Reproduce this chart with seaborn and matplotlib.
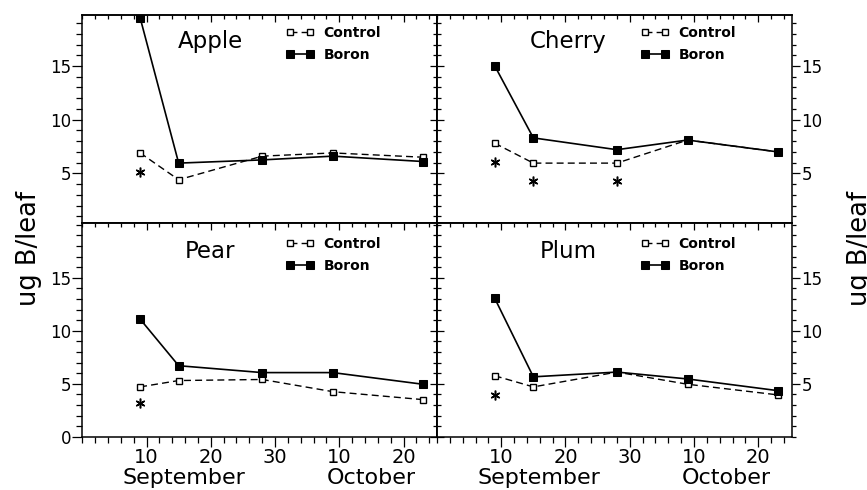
import matplotlib
matplotlib.use("Agg")
import matplotlib.pyplot as plt
from matplotlib.ticker import MultipleLocator
import seaborn as sns

# sampling dates, counted as days from 31 August (Sep d -> d, Oct d -> 30 + d)
days = [9, 15, 28, 39, 53]
xtick_pos = [10, 20, 30, 40, 50]
xtick_labels = ["10", "20", "30", "10", "20"]
months = ["September", "October"]
month_pos = [15.8, 45.0]

fruits = ["Apple", "Cherry", "Pear", "Plum"]

control_apple = [6.9, 4.4, 6.6, 6.9, 6.5]
boron_apple = [19.5, 5.95, 6.25, 6.6, 6.1]
control_cherry = [7.8, 5.95, 5.95, 8.1, 7.0]
boron_cherry = [15.0, 8.3, 7.2, 8.1, 7.0]
control_pear = [4.7, 5.3, 5.4, 4.25, 3.5]
boron_pear = [11.1, 6.7, 6.05, 6.05, 4.95]
control_plum = [5.75, 4.7, 6.1, 4.95, 3.95]
boron_plum = [13.05, 5.65, 6.1, 5.45, 4.35]

# significance asterisks (day, value)
star_x_apple, star_y_apple = [9], [5.15]
star_x_cherry, star_y_cherry = [9, 15, 28], [6.1, 4.25, 4.25]
star_x_pear, star_y_pear = [9], [3.2]
star_x_plum, star_y_plum = [9], [3.9]

control = [control_apple, control_cherry, control_pear, control_plum]
boron = [boron_apple, boron_cherry, boron_pear, boron_plum]
stars = [(star_x_apple, star_y_apple), (star_x_cherry, star_y_cherry),
         (star_x_pear, star_y_pear), (star_x_plum, star_y_plum)]

sns.set_style("ticks")
plt.rcParams['font.family'] = ['DejaVu Sans']
plt.rcParams['axes.linewidth'] = 1.1
for key in ['text.color', 'axes.labelcolor', 'xtick.color', 'ytick.color', 'axes.edgecolor']:
    plt.rcParams[key] = 'black'

fig = plt.figure(figsize=(8.67, 4.90), dpi=100)
axes = fig.subplots(2, 2, sharex=True,
                    gridspec_kw=dict(hspace=0, wspace=0, height_ratios=[207.7, 214],
                                     left=0.0949, right=0.9131, top=0.9694, bottom=0.1088))


def inner_ticks(ax, where, major):
    if where in ("left", "right"):
        sec = ax.secondary_yaxis(where)
        sec.set_ticks(major)
        sec.yaxis.set_minor_locator(MultipleLocator(1))
    else:
        sec = ax.secondary_xaxis(where)
        sec.set_ticks(major)
        sec.xaxis.set_minor_locator(MultipleLocator(2))
    sec.tick_params(which='both', direction='in', width=0.9,
                    labelleft=False, labelright=False, labeltop=False, labelbottom=False)
    sec.tick_params(which='major', length=5)
    sec.tick_params(which='minor', length=3)
    for s in sec.spines.values():
        s.set_linewidth(1.1)


for i, ax in enumerate(axes.flat):
    row, col = divmod(i, 2)

    sns.lineplot(x=days, y=control[i], ax=ax, color='black', linewidth=1.0,
                 linestyle='--', marker='s', markersize=5, markerfacecolor='white',
                 markeredgecolor='black', markeredgewidth=1.0)
    ax.lines[-1].set_dashes((5, 3))
    sns.lineplot(x=days, y=boron[i], ax=ax, color='black', linewidth=1.2,
                 marker='s', markersize=5.8, markerfacecolor='black',
                 markeredgecolor='black')
    ax.plot(stars[i][0], stars[i][1], linestyle='none', marker=(6, 2, 0),
            markersize=7, markeredgewidth=1.1, color='black')

    ax.legend([ax.lines[0], ax.lines[1]], ["Control", "Boron"],
              loc='upper left',
              bbox_to_anchor=(0.575, 0.947 if row == 0 else 0.932),
              frameon=False, numpoints=2, handlelength=2.0,
              handletextpad=0.7, labelspacing=0.55, borderpad=0,
              borderaxespad=0, prop={'size': 10, 'weight': 'bold'})

    ax.text(0.36 if col == 0 else 0.37, 0.87 if row == 0 else 0.864, fruits[i],
            transform=ax.transAxes, ha='center', va='center', fontsize=16.5)

    ax.set_xlim(0, 55.2)
    if row == 0:
        ax.set_ylim(0.4, 19.75)
    else:
        ax.set_ylim(0, 20.2)

    ymajor = [0, 5, 10, 15] if (row == 1 and col == 0) else [5, 10, 15]
    ax.set_yticks(ymajor)
    ax.yaxis.set_minor_locator(MultipleLocator(1))
    ax.set_xticks(xtick_pos)
    ax.xaxis.set_minor_locator(MultipleLocator(2))

    if col == 0:
        ax.tick_params(axis='y', which='both', left=True, right=False, labelleft=True,
                       labelright=False, direction='out')
        ax.tick_params(axis='y', which='major', length=7, width=0.9, pad=1, labelsize=12)
        ax.tick_params(axis='y', which='minor', length=4, width=0.9)
        inner_ticks(ax, 'right', [0, 5, 10, 15])
    else:
        ax.tick_params(axis='y', which='both', left=False, right=True, labelleft=False,
                       labelright=True, direction='out')
        ax.tick_params(axis='y', which='major', length=6, width=0.9, pad=1, labelsize=12)
        ax.tick_params(axis='y', which='minor', length=3, width=0.9)
        inner_ticks(ax, 'left', [0, 5, 10, 15])

    if row == 0:
        ax.tick_params(axis='x', which='both', bottom=False, labelbottom=False)
        inner_ticks(ax, 'top', xtick_pos)
    else:
        ax.tick_params(axis='x', which='both', bottom=True, top=False, direction='out',
                       labelbottom=True)
        ax.tick_params(axis='x', which='major', length=7, width=0.9, pad=1.5, labelsize=14)
        ax.tick_params(axis='x', which='minor', length=4, width=0.9)
        ax.set_xticklabels(xtick_labels)
        inner_ticks(ax, 'top', xtick_pos)
        for m, p in zip(months, month_pos):
            ax.text(p, -0.195, m, transform=ax.get_xaxis_transform(),
                    ha='center', va='center', fontsize=16)

    ax.set_xlabel("")
    ax.set_ylabel("")
    for s in ax.spines.values():
        s.set_visible(True)
        s.set_linewidth(1.1)
        s.set_color('black')

fig.text(0.033, 0.492, "ug B/leaf", rotation=90, ha='center', va='center', fontsize=18.5)
fig.text(0.992, 0.492, "ug B/leaf", rotation=90, ha='center', va='center', fontsize=18.5)

fig.savefig("out.png", dpi=100)
